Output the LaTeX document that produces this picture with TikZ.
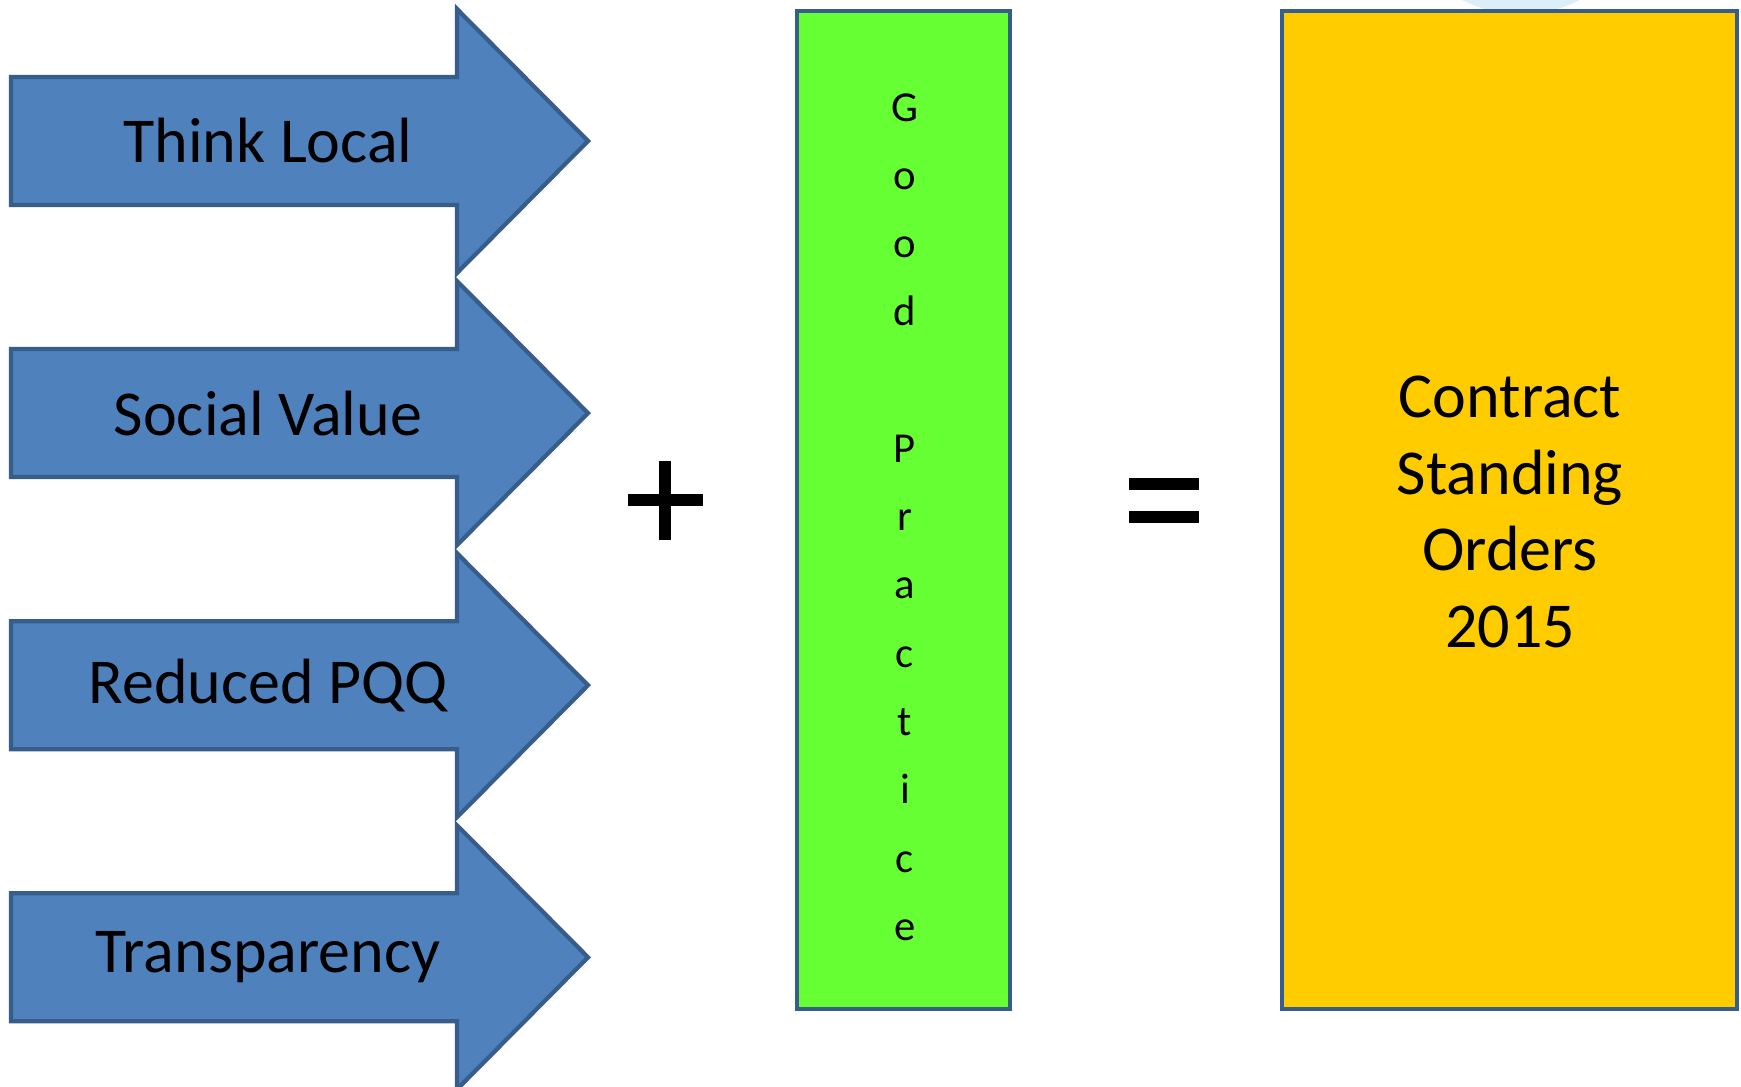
\documentclass[tikz,border=0pt]{standalone}
\usepackage{fontspec}
\setmainfont{Carlito}
\definecolor{arrowfill}{HTML}{4F81BD}
\definecolor{edgeblue}{HTML}{385D8A}
\definecolor{goodgreen}{HTML}{66FF33}
\definecolor{cgold}{HTML}{FFCC00}
\definecolor{paleblue}{HTML}{DCEEF8}
\tikzset{
  bigarrow/.style={fill=arrowfill, draw=edgeblue, line width=3.2pt, line join=miter},
  arrowtext/.style={font=\fontsize{48}{58}\selectfont, text=black},
  panel/.style={draw=edgeblue, line width=3.2pt},
  opbar/.style={line width=9pt, line cap=butt, black, rounded corners=1pt},
}
\begin{document}
\begin{tikzpicture}[x=0.75pt,y=-0.75pt]
\useasboundingbox (0,0) rectangle (1741,1087);
\clip (0,0) rectangle (1741,1087);
% faint circle behind the right panel
\fill[paleblue] (1521,-117) circle (131);
% arrows
\foreach \k/\name/\label in {0/a1/Think Local,1/a2/Social Value,2/a3/Reduced PQQ,3/a4/Transparency}{
  \pgfmathsetmacro{\dy}{272.1*\k}
  \draw[bigarrow] (11,77+\dy) -- (457,77+\dy) -- (457,9+\dy) -- (588,141+\dy)
     -- (457,273+\dy) -- (457,205+\dy) -- (11,205+\dy) -- cycle;
  \node[arrowtext] (\name) at (268,141+\dy) {\label};
}
% plus sign
\coordinate (plusc) at (665,500);
\draw[opbar] (628,500) -- (703,500);
\draw[opbar] (665,461) -- (665,540);
% green panel
\draw[panel, fill=goodgreen] (797,11) rectangle (1010,1009);
\node[align=center, font=\fontsize{32}{51.2}\selectfont, inner sep=0pt] (gp) at (905,517)
  {G\\o\\o\\d\\[0pt]\strut\\P\\r\\a\\c\\t\\i\\c\\e};
% equals sign
\draw[opbar] (1129,484) -- (1199,484);
\draw[opbar] (1129,517) -- (1199,517);
% yellow panel
\draw[panel, fill=cgold] (1282,11) rectangle (1737,1009);
\node[align=center, font=\fontsize{48}{57.5}\selectfont] (cso) at (1510,512)
  {Contract\\Standing\\Orders\\2015};
\end{tikzpicture}
\end{document}
